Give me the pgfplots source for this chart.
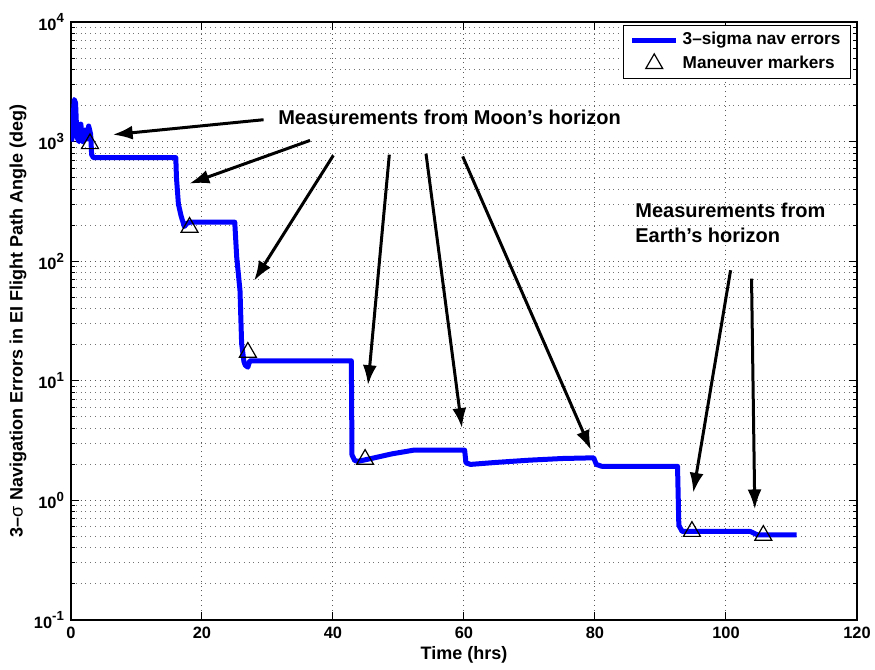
\documentclass[border=0pt]{standalone}
\usepackage{fontspec}
\setmainfont{Liberation Sans}
\usepackage{pgfplots}
\pgfplotsset{compat=1.18}
\usetikzlibrary{arrows.meta}
\newcommand{\ex}[1]{\raisebox{0.85ex}{\fontsize{6.6}{7}\selectfont\bfseries #1}}
\pgfplotsset{
  linelegend/.style={legend image code/.code={\draw[##1] (0pt,0pt) -- (22pt,0pt);}},
  marklegend/.style={legend image code/.code={\draw[mark repeat=2,mark phase=2,##1] plot coordinates {(0pt,0pt) (11pt,0pt) (22pt,0pt)};}},
}
\begin{document}
\begin{tikzpicture}
\useasboundingbox (-35.5pt,-25pt) rectangle (402pt,310pt);
\begin{axis}[
  scale only axis, width=393pt, height=299pt,
  xmin=0, xmax=120, ymin=0.1, ymax=10000, ymode=log,
  xtick={0,20,40,60,80,100,120},
  ytick={0.1,1,10,100,1000,10000},
  yticklabels={10\ex{-1},10\ex{0},10\ex{1},10\ex{2},10\ex{3},10\ex{4}},
  xmajorgrids, ymajorgrids, yminorgrids,
  major grid style={dotted, black!65, line width=0.5pt},
  minor grid style={dotted, black!55, line width=0.5pt},
  axis line style={line width=0.6pt},
  major tick length=4pt, minor tick length=2pt,
  every tick/.style={black, line width=0.5pt},
  tick label style={font=\bfseries\fontsize{8.2}{9}\selectfont},
  /pgf/number format/assume math mode=true,
  xlabel={Time (hrs)},
  ylabel={3–{\mdseries σ} Navigation Errors in EI Flight Path Angle (deg)},
  label style={font=\bfseries\fontsize{9}{10}\selectfont},
  xlabel style={at={(axis description cs:0.5,-0.0585)}, anchor=center},
  ylabel style={at={(axis description cs:-0.0674,0.5)}, anchor=center},
  legend style={at={(axis description cs:1,1)}, xshift=-3pt, yshift=-1.5pt, anchor=north east,
    draw=black, line width=0.5pt, font=\bfseries\fontsize{8.6}{10}\selectfont,
    inner xsep=3pt, inner ysep=1.5pt, row sep=0pt, cells={anchor=west}},
]
\addplot[blue, line width=2.5pt, line join=round, forget plot] coordinates {
(0.1,1000) (0.3,1500) (0.5,2250) (0.7,2100) (0.9,1100) (1.2,1000) (1.5,1400)
(1.8,1000) (2.1,1250) (2.4,1050) (2.7,1350) (3.0,1150) (3.15,780) (3.4,735)
(16.0,735) (16.1,500) (16.4,300) (16.8,240) (17.3,195) (17.7,207) (18.2,212)
(25.0,212) (25.3,108) (25.8,57) (26.05,20.5) (26.4,14.5) (26.6,13.5) (27.0,13)
(27.3,14.7) (42.8,14.7) (42.9,2.4) (43.3,2.16) (43.8,2.12) (46,2.25) (49,2.45)
(52.3,2.63) (60.1,2.63) (60.3,2.06) (61.0,2.0) (65,2.08) (70,2.17) (75,2.24)
(79.8,2.27) (80.2,2.0) (81.0,1.93) (92.6,1.93) (92.8,0.62) (93.3,0.55)
(103.7,0.55) (104.8,0.515) (110.8,0.515)
};
\addlegendimage{blue, line width=2.5pt, linelegend}
\addlegendentry{3–sigma nav errors}
\addplot[only marks, mark=triangle, mark size=4.9pt, black, mark options={line width=0.6pt}, marklegend] coordinates {
(2.9,960) (18.1,192) (27.0,17.3) (44.9,2.2) (94.8,0.55) (105.7,0.51)
};
\addlegendentry{Maneuver markers}

\node[font=\bfseries\fontsize{10}{12}\selectfont] at (axis cs:57.8,1595) {Measurements from Moon’s horizon};
\node[font=\bfseries\fontsize{10}{12.5}\selectfont, align=left, anchor=west, inner sep=0pt] at (axis cs:86.1,208) {Measurements from\\Earth’s horizon};

\begin{scope}[line width=1.5pt, -{Latex[length=10pt,width=7pt]}]
\draw (axis cs:29.4,1524) -- (axis cs:6.36,1143);
\draw (axis cs:36.5,1023) -- (axis cs:18.06,445);
\draw (axis cs:40.05,767) -- (axis cs:27.94,68.4);
\draw (axis cs:48.6,778) -- (axis cs:45.34,9.19);
\draw (axis cs:54.2,793) -- (axis cs:59.69,4.02);
\draw (axis cs:59.8,752) -- (axis cs:79.4,2.63);
\draw (axis cs:100.7,84) -- (axis cs:95.0,1.157);
\draw (axis cs:103.9,71.6) -- (axis cs:104.4,0.84);
\end{scope}
\end{axis}
\end{tikzpicture}
\end{document}
